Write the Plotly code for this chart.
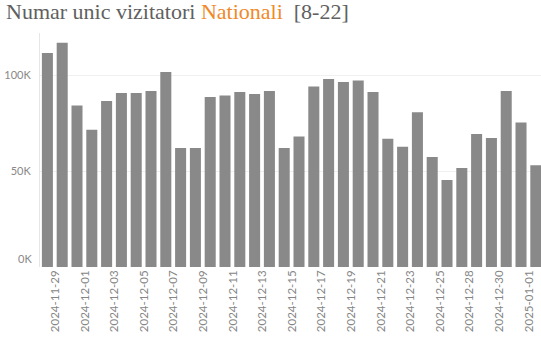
import plotly.graph_objects as go

# Daily unique national visitors (hours 8-22)
dates = [
    "2024-11-28", "2024-11-29", "2024-11-30", "2024-12-01", "2024-12-02",
    "2024-12-03", "2024-12-04", "2024-12-05", "2024-12-06", "2024-12-07",
    "2024-12-08", "2024-12-09", "2024-12-10", "2024-12-11", "2024-12-12",
    "2024-12-13", "2024-12-14", "2024-12-15", "2024-12-16", "2024-12-17",
    "2024-12-18", "2024-12-19", "2024-12-20", "2024-12-21", "2024-12-22",
    "2024-12-23", "2024-12-24", "2024-12-25", "2024-12-27", "2024-12-28",
    "2024-12-29", "2024-12-30", "2024-12-31", "2025-01-01",
]
visitors = [
    111600, 116900, 84200, 71600, 86500,
    90700, 90700, 91700, 101700, 62000,
    62000, 88600, 89400, 91200, 90200,
    91700, 62000, 68000, 94100, 98000,
    96400, 97300, 91200, 66900, 62700,
    80700, 57300, 45300, 51600, 69400,
    67300, 91700, 75300, 53100,
]
y_ticks = [50000, 100000]
y_tick_text = ["50K", "100K"]

bar_color = "#898989"
tick_color = "#888888"

fig = go.Figure(
    go.Bar(
        x=dates,
        y=visitors,
        marker=dict(color=bar_color, line=dict(width=0)),
        width=0.745,
    )
)

fig.update_layout(
    width=541,
    height=348,
    margin=dict(l=40, r=0, t=33, b=81),
    paper_bgcolor="white",
    plot_bgcolor="white",
    showlegend=False,
    title=dict(
        text=("Numar unic vizitatori "
              "<span style='color:#f0892a'>Nationali</span>\u00a0\u00a0[8-22]"),
        font=dict(family="Liberation Serif, Times New Roman, serif",
                  size=22, color="#606060"),
        xref="container", x=6 / 541, xanchor="left",
        yref="container", y=1 - 11 / 348, yanchor="middle",
    ),
    xaxis=dict(
        type="category",
        range=[-0.5, 33.35],
        tickmode="array",
        tickvals=dates[1::2],
        ticktext=dates[1::2],
        tickangle=-90,
        ticklabelshift=-7,
        tickfont=dict(family="Lato, Roboto, sans-serif", size=11.5, color="#858585"),
        showgrid=False,
        showline=False,
        ticks="",
    ),
    yaxis=dict(
        range=[0, 122000],
        tickmode="array",
        tickvals=y_ticks,
        ticktext=y_tick_text,
        tickfont=dict(family="Lato, Roboto, sans-serif", size=11, color=tick_color),
        showgrid=True,
        gridcolor="#f0f0f0",
        gridwidth=1,
        zeroline=False,
        showline=True,
        linecolor="#e6e6e6",
        linewidth=1,
        ticks="",
        ticklabelstandoff=6,
    ),
)

# Bottom value label sits just above the baseline
fig.add_annotation(
    text="0K",
    xref="paper", x=0, xanchor="right", xshift=-6,
    yref="y", y=0, yanchor="middle", yshift=9,
    showarrow=False,
    font=dict(family="Lato, Roboto, sans-serif", size=11, color=tick_color),
)

fig.write_html("out.html")
